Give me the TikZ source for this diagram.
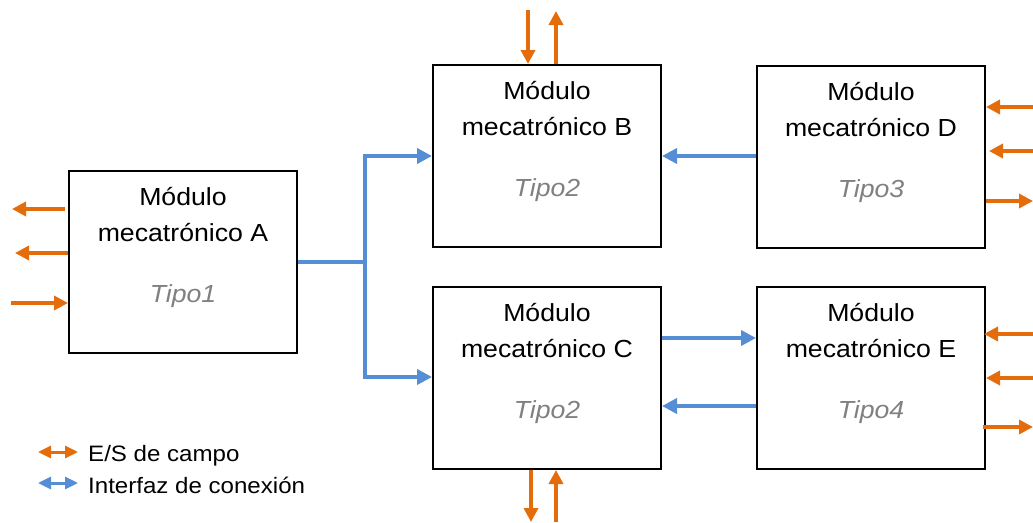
\documentclass[tikz,border=0pt]{standalone}
\usepackage{fontspec}
\setmainfont[FakeStretch=1.08]{Liberation Sans}
\usetikzlibrary{arrows.meta}

\definecolor{fieldio}{HTML}{E46C0A}
\definecolor{link}{HTML}{558ED5}
\definecolor{typegray}{HTML}{808080}

\newcommand\modfont{\fontsize{24.7pt}{30pt}\selectfont}
\newcommand\keyfont{\fontsize{22.3pt}{27pt}\selectfont}

\tikzset{
  module/.style={draw=black, line width=2pt, minimum width=228pt, minimum height=182pt, inner sep=0pt},
  modtext/.style={font=\modfont, anchor=base, inner sep=0pt},
  typetext/.style={font=\modfont\itshape, text=typegray, anchor=base, inner sep=0pt},
  io/.style={draw=fieldio, line width=4pt, -{Triangle[length=14pt,width=14pt]}},
  bus/.style={draw=link, line width=4pt, -{Triangle[length=15pt,width=15pt]}},
  busline/.style={draw=link, line width=4pt},
  keytext/.style={font=\keyfont, anchor=base west, inner sep=0pt},
}

\begin{document}
\begin{tikzpicture}[x=1pt, y=-1pt]
\path[use as bounding box] (0,0) rectangle (1033,522);

% mechatronic modules
\node[module] (A) at (183,262) {};
\node[module] (B) at (547,156) {};
\node[module] (C) at (547,378) {};
\node[module] (D) at (871,157) {};
\node[module] (E) at (871,378) {};

% module captions
\foreach \m/\l/\t in {A/A/1, B/B/2, C/C/2, D/D/3, E/E/4}{
  \node[modtext]  (\m1) at ([yshift=-35pt]\m.north) {Módulo};
  \node[modtext]  (\m2) at ([yshift=-71pt]\m.north) {mecatrónico \l};
  \node[typetext] (\m3) at ([yshift=-132pt]\m.north) {Tipo\t};
}

% field I/O of module A
\coordinate (a1) at (12,209);
\coordinate (a2) at (15,253);
\coordinate (a3) at (11,303);
\draw[io] ([xshift=-3pt]A.west |- a1) -- (a1);
\draw[io] (A.west |- a2) -- (a2);
\draw[io] (a3) -- (A.west |- a3);

% field I/O of module B
\coordinate (b1) at (528,10);
\coordinate (b2) at (556,11);
\draw[io] (b1) -- (b1 |- B.north);
\draw[io] (b2 |- B.north) -- (b2);

% field I/O of module C
\coordinate (c1) at (531,522);
\coordinate (c2) at (556,522);
\draw[io] (c1 |- C.south) -- (c1);
\draw[io] (c2) -- (c2 |- C.south);

% field I/O of module D
\coordinate (d1) at (1033,107);
\coordinate (d2) at (1033,151);
\coordinate (d3) at (1033,201);
\draw[io] (d1) -- (D.east |- d1);
\draw[io] (d2) -- ([xshift=3pt]D.east |- d2);
\draw[io] (D.east |- d3) -- (d3);

% field I/O of module E
\coordinate (e1) at (1033,334);
\coordinate (e2) at (1033,378);
\coordinate (e3) at (1033,427);
\draw[io] (e1) -- ([xshift=-2pt]E.east |- e1);
\draw[io] (e2) -- (E.east |- e2);
\draw[io] ([xshift=-3pt]E.east |- e3) -- (e3);

% connection interfaces
\coordinate (fork) at (365,262);
\coordinate (bupper) at (433,156);
\coordinate (blower) at (433,377);
\draw[busline] (A.east |- fork) -- (fork);
\draw[bus] (fork) |- (B.west |- bupper);
\draw[bus] (fork) |- (C.west |- blower);
\coordinate (dbline) at (0,156);
\draw[bus] (D.west |- dbline) -- (B.east |- dbline);
\coordinate (celine) at (0,338);
\coordinate (ecline) at (0,406);
\draw[bus] (C.east |- celine) -- (E.west |- celine);
\draw[bus] (E.west |- ecline) -- (C.east |- ecline);

% key
\coordinate (k1l) at (38,452);
\coordinate (k1r) at (78,452);
\coordinate (k2l) at (38,483);
\coordinate (k2r) at (78,483);
\draw[draw=fieldio, line width=3pt, {Triangle[length=13pt,width=12pt]}-{Triangle[length=13pt,width=12pt]}] (k1l) -- (k1r);
\draw[draw=link, line width=3pt, {Triangle[length=13pt,width=12pt]}-{Triangle[length=13pt,width=12pt]}] (k2l) -- (k2r);
\node[keytext] (k1) at (88,461) {E/S de campo};
\node[keytext] (k2) at (88,493) {Interfaz de conexión};
\end{tikzpicture}
\end{document}
